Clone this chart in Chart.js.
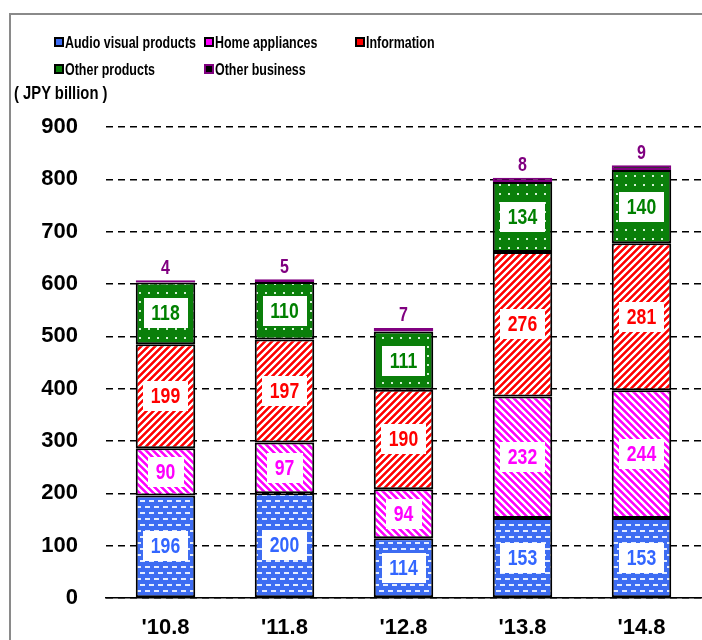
<!DOCTYPE html>
<html>
<head>
<meta charset="utf-8">
<script src="https://cdn.jsdelivr.net/npm/chart.js@4/dist/chart.umd.min.js"></script>
<style>
  body { margin: 0; background: #fff; }
  #wrap { position: relative; width: 702px; height: 640px; overflow: hidden; }
  #frame { position: absolute; left: 9px; top: 13px; width: 760px; height: 700px;
           border-left: 2px solid #8a8a8a; border-top: 2px solid #8a8a8a; }
  #chart { position: absolute; left: 0; top: 0; }
  .swatch { position: absolute; width: 6px; height: 6px; border: 2px solid #000; }
  .legend-text { position: absolute; white-space: nowrap; transform: scaleX(0.755); transform-origin: 0 50%;
                 font: bold 16.5px 'Liberation Sans', sans-serif; color: #000; line-height: 20px; }
  #unit { position: absolute; left: 14px; top: 82px; white-space: nowrap; transform: scaleX(0.8); transform-origin: 0 50%;
          font: bold 18.5px 'Liberation Sans', sans-serif; line-height: 22px; }
</style>
</head>
<body>
<div id="wrap">
  <div id="frame"></div>
  <canvas id="chart" width="702" height="640"></canvas>
  <div id="legend"></div>
  <div id="unit">( JPY billion )</div>
</div>
<script>
// Sales by category, JPY billion
const categories = ["'10.8", "'11.8", "'12.8", "'13.8", "'14.8"];
const seriesNames = ['Audio visual products', 'Home appliances', 'Information', 'Other products', 'Other business'];
const audioVisual = [196, 200, 114, 153, 153];
const homeAppliances = [90, 97, 94, 232, 244];
const information = [199, 197, 190, 276, 281];
const otherProducts = [118, 110, 111, 134, 140];
const otherBusiness = [4, 5, 7, 8, 9];
const yMax = 900;
const yStep = 100;

const textColors = ['#3366ff', '#ff00ff', '#ff0000', '#008000', '#800080'];
const labelFont = "bold 22px 'Liberation Sans', sans-serif";
const topLabelFont = "bold 20px 'Liberation Sans', sans-serif";
const narrow = 0.8; // condensed look for the value labels

// --- fill patterns ---
function makeTile(w, h, draw) {
  const c = document.createElement('canvas');
  c.width = w; c.height = h;
  draw(c.getContext('2d'), w, h);
  return c;
}

function stripeTile(base, period, dir) {
  return makeTile(period, period, (g, w, h) => {
    const img = g.createImageData(w, h);
    for (let y = 0; y < h; y++) {
      for (let x = 0; x < w; x++) {
        const t = ((dir > 0 ? x + y : x - y + period * 4) % period) / period;
        let k = 0.5 + 0.5 * Math.cos(2 * Math.PI * t);
        k = Math.min(1, Math.max(0, (k - 0.3) / 0.4));
        const i = (y * w + x) * 4;
        img.data[i] = base[0] + (255 - base[0]) * k;
        img.data[i + 1] = base[1] + (255 - base[1]) * k;
        img.data[i + 2] = base[2] + (255 - base[2]) * k;
        img.data[i + 3] = 255;
      }
    }
    g.putImageData(img, 0, 0);
  });
}

const blueTile = makeTile(9, 12, (g) => {
  g.fillStyle = '#3d6cf2'; g.fillRect(0, 0, 9, 12);
  g.fillStyle = '#e4ecff';
  g.fillRect(1, 2, 5, 2);
  g.fillRect(5, 8, 5, 2);
  g.fillRect(-4, 8, 5, 2);
});
const greenTile = makeTile(9, 9, (g) => {
  g.fillStyle = '#0a7f0a'; g.fillRect(0, 0, 9, 9);
  g.fillStyle = '#d4f2d4';
  g.fillRect(4, 4, 2, 2);
});
const magentaTile = stripeTile([255, 0, 255], 7, -1);
const redTile = stripeTile([255, 0, 0], 7, 1);

const ctx = document.getElementById('chart').getContext('2d');
const fills = [
  ctx.createPattern(blueTile, 'repeat'),
  ctx.createPattern(magentaTile, 'repeat'),
  ctx.createPattern(redTile, 'repeat'),
  ctx.createPattern(greenTile, 'repeat'),
  '#000000'
];
const borders = ['#000', '#000', '#000', '#000', '#800080'];
const swatchFills = ['#3d6cf2', '#ff00ff', '#ff0000', '#0a7f0a', '#000'];
const seriesData = [audioVisual, homeAppliances, information, otherProducts, otherBusiness];

// legend laid out as a grid of three columns
const legendCols = [54, 204, 355];
const legendRows = [42, 69];
const legendBox = document.getElementById('legend');
seriesNames.forEach((name, i) => {
  const x = legendCols[i % 3];
  const y = legendRows[Math.floor(i / 3)];
  const sw = document.createElement('div');
  sw.className = 'swatch';
  sw.style.left = x + 'px';
  sw.style.top = (y - 5) + 'px';
  sw.style.background = swatchFills[i];
  sw.style.borderColor = borders[i];
  const tx = document.createElement('div');
  tx.className = 'legend-text';
  tx.style.left = (x + 11) + 'px';
  tx.style.top = (y - 10) + 'px';
  tx.textContent = name;
  legendBox.appendChild(sw);
  legendBox.appendChild(tx);
});

// value labels in white boxes, the top series above the bar
const segmentLabels = {
  id: 'segmentLabels',
  afterDatasetsDraw(chart) {
    const c = chart.ctx;
    const last = chart.data.datasets.length - 1;
    chart.data.datasets.forEach((ds, di) => {
      chart.getDatasetMeta(di).data.forEach((bar, i) => {
        const txt = String(ds.data[i]);
        const top = di === last;
        const cy = top ? bar.y - 13 : (bar.y + bar.base) / 2;
        c.save();
        c.font = top ? topLabelFont : labelFont;
        if (!top) {
          const w = Math.round(c.measureText(txt).width * narrow + 16);
          const h = 30;
          c.fillStyle = '#fff';
          c.fillRect(Math.round(bar.x - w / 2), Math.round(cy - h / 2), w, h);
        }
        c.translate(bar.x, cy + 1);
        c.scale(narrow, 1);
        c.textAlign = 'center';
        c.textBaseline = 'middle';
        c.fillStyle = textColors[di];
        c.fillText(txt, 0, 0);
        c.restore();
      });
    });
  }
};

new Chart(ctx, {
  type: 'bar',
  data: {
    labels: categories,
    datasets: seriesData.map((d, i) => ({
      label: seriesNames[i],
      data: d,
      backgroundColor: fills[i],
      borderColor: borders[i],
      borderWidth: 2,
      borderSkipped: false,
      categoryPercentage: 1,
      barPercentage: 0.5
    }))
  },
  options: {
    responsive: false,
    animation: false,
    layout: { padding: { left: 0, top: 127, right: 1, bottom: 0 } },
    plugins: { legend: { display: false }, tooltip: { enabled: false } },
    scales: {
      x: {
        stacked: true,
        grid: { display: false },
        border: { display: true, color: '#000', width: 1.5 },
        ticks: { color: '#000', font: { family: 'Liberation Sans', weight: 'bold', size: 22 }, padding: 9 },
        afterFit: (s) => { s.height = 42; }
      },
      y: {
        stacked: true,
        min: 0,
        max: yMax,
        grid: { color: '#000', lineWidth: 1.5, drawTicks: false },
        border: { display: false, dash: [7, 5] },
        ticks: { stepSize: yStep, color: '#000', padding: 28,
                 font: { family: 'Liberation Sans', weight: 'bold', size: 22 } },
        afterFit: (s) => { s.width = 106; }
      }
    }
  },
  plugins: [segmentLabels]
});
</script>
</body>
</html>
